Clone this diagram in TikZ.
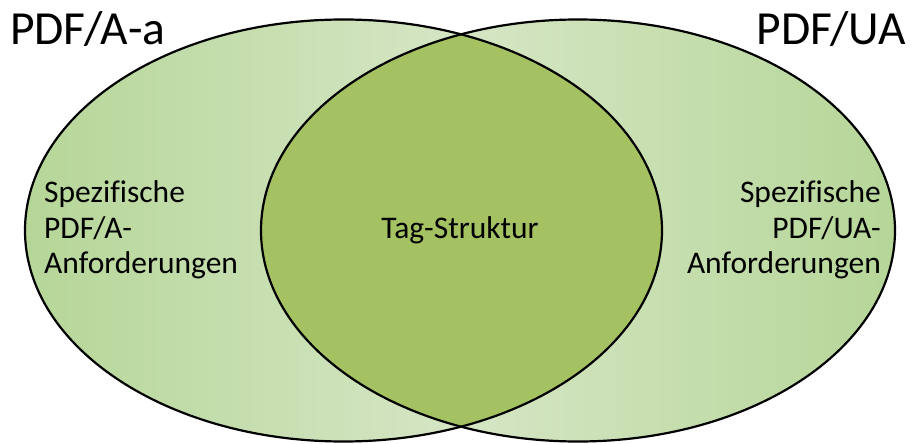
\documentclass[tikz,border=0pt]{standalone}
\usepackage{fontspec}
\setmainfont{Carlito}[Ligatures=CommonOff]
\definecolor{gdark}{RGB}{182,214,152}
\definecolor{glight}{RGB}{228,237,218}
\definecolor{gmid}{RGB}{165,194,99}
\begin{document}
\begin{tikzpicture}[x=1pt,y=-1pt,
  outline/.style={draw=black,line width=2.2pt},
  bigtxt/.style={inner sep=0pt,font=\fontsize{47.5}{50}\selectfont},
  bodytxt/.style={inner sep=0pt,font=\fontsize{31.5}{35.5}\selectfont}]
\useasboundingbox (0,0) rectangle (911,444);
% left ellipse
\shade[left color=gdark,right color=glight] (343.5,230.5) ellipse [x radius=318.5,y radius=211];
% right ellipse
\shade[left color=glight,right color=gdark] (578,230.5) ellipse [x radius=317,y radius=211];
% intersection
\begin{scope}
  \clip (343.5,230.5) ellipse [x radius=318.5,y radius=211];
  \fill[gmid] (578,230.5) ellipse [x radius=317,y radius=211];
\end{scope}
\draw[outline] (343.5,230.5) ellipse [x radius=318.5,y radius=211];
\draw[outline] (578,230.5) ellipse [x radius=317,y radius=211];
\node[bigtxt,anchor=base west] (ta) at (10,45) {PDF/A-a};
\node[bigtxt,anchor=base east] (tu) at (906,45) {PDF/UA};
\node[bodytxt,align=left,anchor=west] (la) at (44,230) {Spezifische\\PDF/A-\\Anforderungen};
\node[bodytxt,align=right,anchor=east] (lu) at (881,230) {Spezifische\\PDF/UA-\\Anforderungen};
\node[bodytxt,anchor=base] (tag) at (460,238) {Tag-Struktur};
\end{tikzpicture}
\end{document}
